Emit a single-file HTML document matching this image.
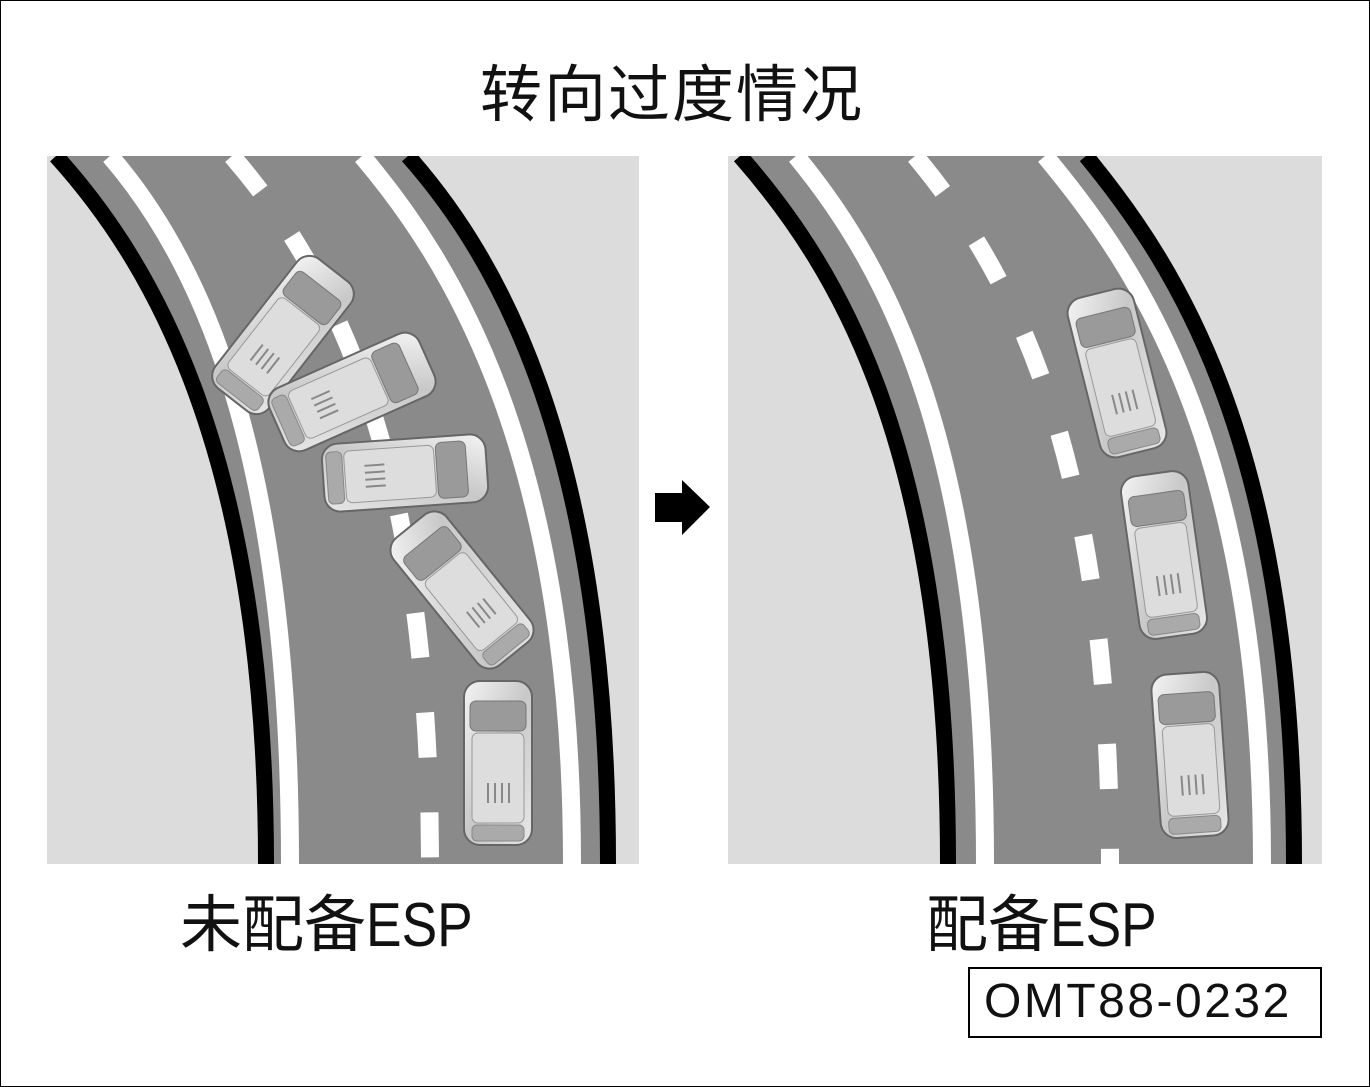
<!DOCTYPE html>
<html><head><meta charset="utf-8"><style>
html,body{margin:0;padding:0;background:#fff}
body{width:1370px;height:1087px;position:relative;overflow:hidden;font-family:"Liberation Sans","Noto Sans CJK SC",sans-serif}
.frame{position:absolute;left:0;top:0;width:1368px;height:1085px;border:1px solid #000}
.t{position:absolute;color:#111;white-space:nowrap}
.n{display:inline-block;transform:scaleX(0.86);transform-origin:left center}
</style></head><body>
<div class="frame"></div>
<div class="t" style="left:480px;top:44px;font-size:62px;letter-spacing:2px">转向过度情况</div>
<div class="t" style="left:180px;top:874px;font-size:62px">未配备<span class="n">ESP</span></div>
<div class="t" style="left:926px;top:874px;font-size:62px">配备<span class="n">ESP</span></div>
<div style="position:absolute;left:968px;top:967px;width:354px;height:71px;border:2px solid #000;box-sizing:border-box"></div>
<div class="t" style="left:984px;top:974px;font-size:48px;letter-spacing:2.5px">OMT88-0232</div>
<svg width="1370" height="1087" style="position:absolute;left:0;top:0">
<defs>
<linearGradient id="cg" x1="0" y1="0" x2="1" y2="1">
<stop offset="0" stop-color="#f4f4f4"/><stop offset="0.5" stop-color="#c8c8c8"/><stop offset="1" stop-color="#e8e8e8"/></linearGradient>
<g id="car">
<rect x="-34" y="-82" width="68" height="164" rx="16" fill="url(#cg)" stroke="#666" stroke-width="2"/>
<rect x="-28" y="-62" width="56" height="30" rx="6" fill="#9a9a9a" stroke="#777"/>
<rect x="-26" y="-30" width="52" height="90" rx="6" fill="#ddd" stroke="#999"/>
<rect x="-26" y="62" width="52" height="16" rx="5" fill="#aaa" stroke="#888"/>
<line x1="-10" y1="20" x2="-10" y2="40" stroke="#888" stroke-width="2"/>
<line x1="-3" y1="20" x2="-3" y2="40" stroke="#888" stroke-width="2"/>
<line x1="4" y1="20" x2="4" y2="40" stroke="#888" stroke-width="2"/>
<line x1="11" y1="20" x2="11" y2="40" stroke="#888" stroke-width="2"/>
</g>
<clipPath id="cl"><rect x="47" y="156" width="592" height="708"/></clipPath>
<clipPath id="cr"><rect x="728" y="156" width="594" height="708"/></clipPath>
</defs>
<g clip-path="url(#cl)">
<rect x="47" y="156" width="592" height="708" fill="#dcdcdc"/>
<path d="M56,156 C150,260 266,450 266,864 L608,864 C608,450 500,260 408,156 Z" fill="#8a8a8a"/>
<path d="M56,156 C150,260 266,450 266,864" fill="none" stroke="#000" stroke-width="16"/>
<path d="M110,156 C200,260 290,450 290,864" fill="none" stroke="#fff" stroke-width="18"/>
<path d="M232,156 C330,270 430,450 430,864" fill="none" stroke="#fff" stroke-width="18" stroke-dasharray="45,55"/>
<path d="M362,156 C450,260 572,450 572,864" fill="none" stroke="#fff" stroke-width="18"/>
<path d="M408,156 C500,260 608,450 608,864" fill="none" stroke="#000" stroke-width="16"/>
<use href="#car" transform="translate(283,335) rotate(38)"/>
<use href="#car" transform="translate(352,392) rotate(66)"/>
<use href="#car" transform="translate(405,473) rotate(86)"/>
<use href="#car" transform="translate(462,590) rotate(-39)"/>
<use href="#car" transform="translate(498,763)"/>
</g>
<g clip-path="url(#cr)">
<rect x="728" y="156" width="594" height="708" fill="#dcdcdc"/>
<path d="M740,156 C840,270 948,450 948,864 L1294,864 C1294,450 1180,260 1086,156 Z" fill="#8a8a8a"/>
<path d="M740,156 C840,270 948,450 948,864" fill="none" stroke="#000" stroke-width="16"/>
<path d="M796,156 C890,270 985,450 985,864" fill="none" stroke="#fff" stroke-width="18"/>
<path d="M915,156 C1010,270 1110,450 1110,864" fill="none" stroke="#fff" stroke-width="18" stroke-dasharray="45,60"/>
<path d="M1045,156 C1140,270 1262,450 1262,864" fill="none" stroke="#fff" stroke-width="18"/>
<path d="M1086,156 C1180,270 1294,450 1294,864" fill="none" stroke="#000" stroke-width="16"/>
<use href="#car" transform="translate(1117,373) rotate(-14)"/>
<use href="#car" transform="translate(1164,555) rotate(-8)"/>
<use href="#car" transform="translate(1190,755) rotate(-4)"/>
</g>
<path d="M655,493 L682,493 L682,480 L710,507 L682,535 L682,522 L655,522 Z" fill="#000"/>
</svg>
</body></html>
